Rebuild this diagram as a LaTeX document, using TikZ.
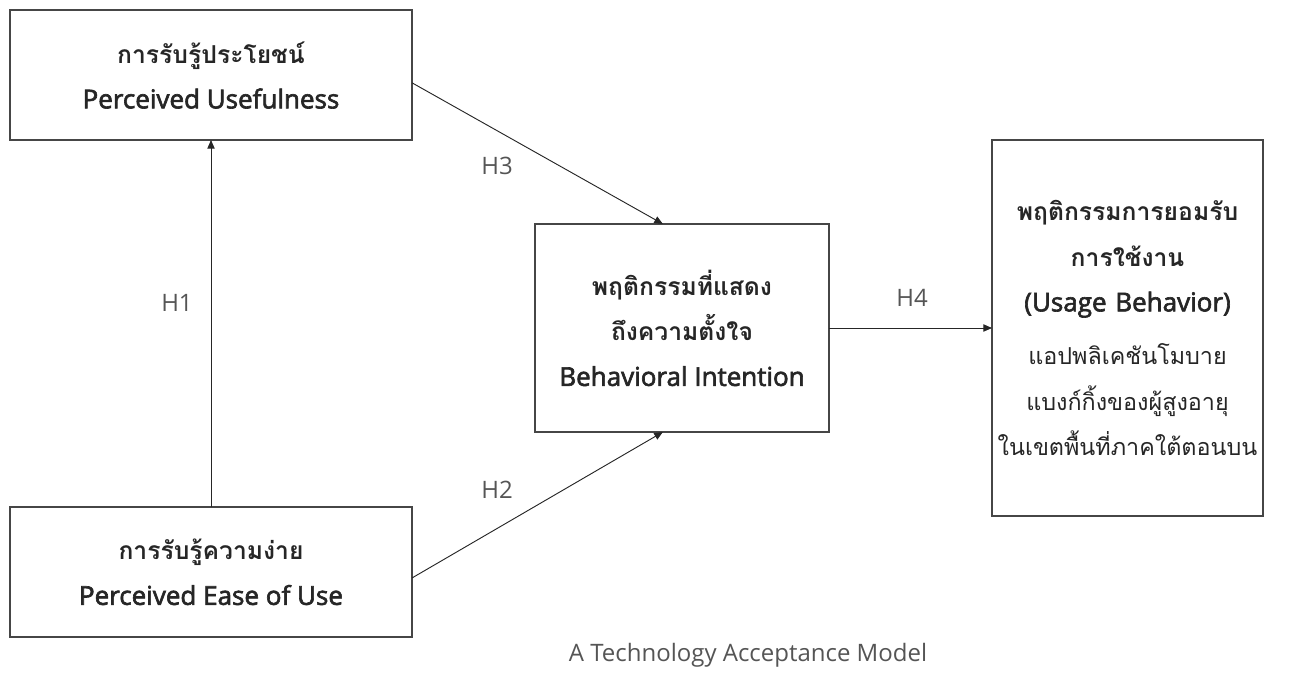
\documentclass[tikz,border=0pt]{standalone}
\usepackage{fontspec}
\setmainfont{Open Sans}[BoldFont=Open Sans, BoldFeatures={FakeBold=2.4}]
\newfontfamily\thaifont[Script=Thai]{Loma}
\usepackage{tikz}
\usetikzlibrary{arrows.meta, calc}
\definecolor{boxGray}{RGB}{70,70,70}
\definecolor{txtGray}{RGB}{38,38,38}
\definecolor{lblGray}{RGB}{85,85,85}
\tikzset{
  box/.style={draw=boxGray, line width=1.1pt, rectangle, inner sep=0pt, outer sep=0pt,
    align=center, text=txtGray, font=\fontsize{19.5}{34}\selectfont\bfseries},
  arr/.style={draw=txtGray, line width=0.7pt, -{Triangle[length=6.5pt,width=5.5pt]}},
  hlabel/.style={text=lblGray, font=\fontsize{18}{22}\selectfont}
}
\newcommand{\thT}[1]{{\thaifont\fontsize{18.5}{34}\selectfont #1}}
\newcommand{\thR}[1]{{\mdseries\thaifont\fontsize{17.5}{34}\selectfont #1}}

\begin{document}
\begin{tikzpicture}[x=0.75pt, y=-0.75pt]
  \useasboundingbox (0,0) rectangle (1294,673);

  % boxes
  \node[box, minimum width=301.5pt, minimum height=97.5pt] (pu) at (211,75)
    {\thT{การรับรู้ประโยชน์}\\Perceived Usefulness};
  \node[box, minimum width=301.5pt, minimum height=97.5pt] (peou) at (211,572)
    {\thT{การรับรู้ความง่าย}\\Perceived Ease of Use};
  \node[box, minimum width=220.5pt, minimum height=156pt] (bi) at (682,328)
    {\thT{พฤติกรรมที่แสดง}\\\thT{ถึงความตั้งใจ}\\Behavioral Intention};
  \node[box, minimum width=203.25pt, minimum height=282pt, text width=195pt] (ub) at (1127.5,328)
    {\thT{พฤติกรรมการยอมรับ}\\\thT{การใช้งาน}\\(Usage Behavior)\\[6pt]
     \thR{แอปพลิเคชันโมบาย}\\\thR{แบงก์กิ้งของผู้สูงอายุ}\\
     \thR{ในเขตพื้นที่ภาคใต้ตอนบน}};

  % paths
  \draw[arr] (peou.north) -- (pu.south);
  \draw[arr] ($(pu.north east)!0.56!(pu.south east)$) -- ($(bi.north west)!0.435!(bi.north east)$);
  \draw[arr] ($(peou.north east)!0.546!(peou.south east)$) -- ($(bi.south west)!0.435!(bi.south east)$);
  \draw[arr] (bi.east) -- (ub.west);

  \node[hlabel] (h1) at (177,303) {H1};
  \node[hlabel] (h2) at (497,490) {H2};
  \node[hlabel] (h3) at (497,166) {H3};
  \node[hlabel] (h4) at (912,298) {H4};
  \node[hlabel] (cap) at (748,655) {A Technology Acceptance Model};
\end{tikzpicture}
\end{document}
